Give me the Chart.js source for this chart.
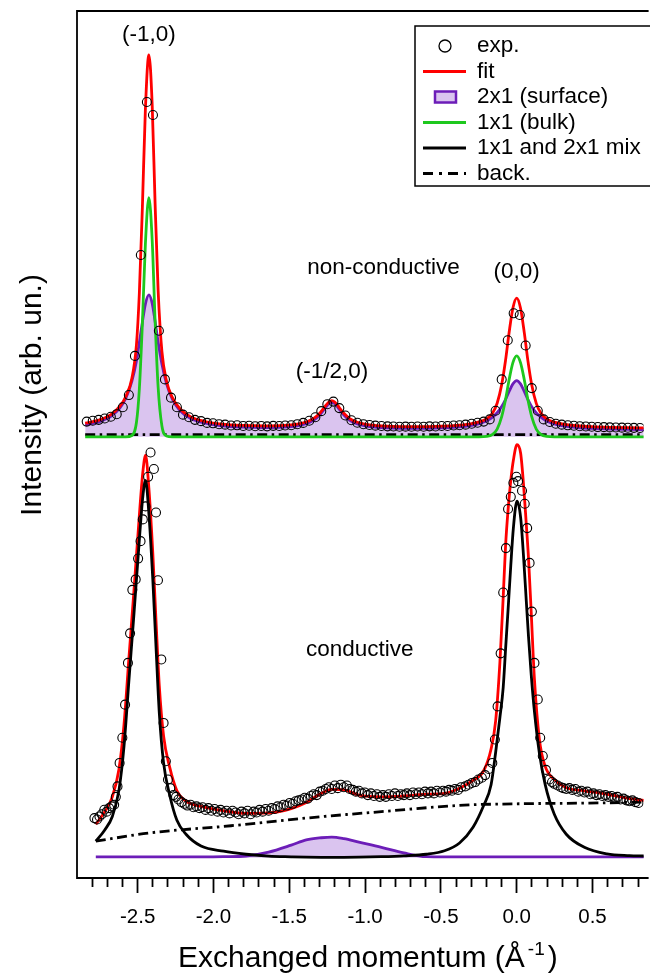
<!DOCTYPE html>
<html>
<head>
<meta charset="utf-8">
<script src="https://cdn.jsdelivr.net/npm/chart.js@4.4.1/dist/chart.umd.min.js"></script>
<style>
  html, body { margin: 0; padding: 0; background: #fff; }
  canvas { display: block; }
</style>
</head>
<body>
<canvas id="graph" width="650" height="973"></canvas>
<script>
// x: exchanged momentum (1/A), y: intensity in arb. units
// the non-conductive panel sits above the conductive one, shifted by TOP_OFFSET
const TOP_OFFSET = 48.4;

// ---- non-conductive (top) ----
const topCurveX = [-2.846, -2.756, -2.677, -2.618, -2.578, -2.538, -2.508, -2.489, -2.469, -2.449,
  -2.426, -2.404, -2.385, -2.365, -2.340, -2.310, -2.271, -2.221, -2.152, -2.062,
  -1.943, -1.805, -1.666, -1.537, -1.448, -1.388, -1.339, -1.299, -1.269, -1.239,
  -1.220, -1.200, -1.170, -1.140, -1.101, -1.051, -0.992, -0.892, -0.754, -0.615,
  -0.496, -0.397, -0.317, -0.248, -0.198, -0.159, -0.129, -0.099, -0.074, -0.050,
  -0.025, 0, 0.025, 0.050, 0.074, 0.099, 0.129, 0.159, 0.198, 0.248,
  0.317, 0.397, 0.496, 0.615, 0.734, 0.840];
const topFit = [1.57, 1.92, 2.55, 3.49, 4.63, 6.74, 10.58, 16.45, 26.28, 37.62,
  43.9, 38.11, 26.86, 16.85, 9.81, 6.44, 4.52, 3.23, 2.32, 1.79,
  1.46, 1.31, 1.26, 1.31, 1.46, 1.70, 2.11, 2.71, 3.37, 4.00,
  4.16, 4.00, 3.36, 2.70, 2.09, 1.67, 1.43, 1.25, 1.17, 1.17,
  1.22, 1.31, 1.46, 1.71, 2.08, 2.74, 3.86, 6.00, 8.74, 11.99,
  14.81, 15.95, 14.81, 11.98, 8.73, 5.99, 3.85, 2.73, 2.06, 1.69,
  1.43, 1.27, 1.16, 1.09, 1.05, 1.03];
const topSurface = [1.37, 1.72, 2.35, 3.29, 4.43, 6.39, 8.73, 10.81, 13.15, 15.26,
  16.32, 15.34, 13.27, 10.92, 8.36, 6.14, 4.32, 3.03, 2.12, 1.59,
  1.26, 1.11, 1.06, 1.11, 1.26, 1.50, 1.91, 2.51, 3.17, 3.80,
  3.96, 3.80, 3.16, 2.50, 1.89, 1.47, 1.23, 1.05, 0.97, 0.97,
  1.02, 1.11, 1.26, 1.51, 1.84, 2.27, 2.77, 3.48, 4.28, 5.22,
  6.08, 6.45, 6.08, 5.21, 4.27, 3.47, 2.76, 2.26, 1.82, 1.49,
  1.23, 1.07, 0.96, 0.89, 0.85, 0.83];
const topBulk = [0, 0, 0, 0, 0, 0.15, 1.65, 5.44, 12.93, 22.16,
  27.5, 22.57, 13.39, 5.73, 1.25, 0.10, 0, 0, 0, 0,
  0, 0, 0, 0, 0, 0, 0, 0, 0, 0,
  0, 0, 0, 0, 0, 0, 0, 0, 0, 0,
  0, 0, 0, 0, 0.04, 0.27, 0.89, 2.32, 4.26, 6.57,
  8.53, 9.3, 8.53, 6.57, 4.26, 2.32, 0.89, 0.27, 0.04, 0,
  0, 0, 0, 0, 0, 0];
const topBackX = [-2.846, 0.84];
const topBack = [0.25, 0.25];
const topExp = [
  [-2.836, 1.75], [-2.796, 1.85], [-2.757, 1.95], [-2.717, 2.1], [-2.677, 2.3], [-2.638, 2.6], [-2.598, 3.4], [-2.558, 4.8], [-2.518, 9.3], [-2.479, 20.9],
  [-2.439, 38.5], [-2.399, 37.0], [-2.360, 12.2], [-2.320, 6.6], [-2.280, 4.5], [-2.241, 3.4], [-2.201, 2.55], [-2.161, 2.25], [-2.122, 1.95], [-2.082, 1.8],
  [-2.042, 1.6], [-2.003, 1.55], [-1.963, 1.45], [-1.923, 1.4], [-1.884, 1.3], [-1.844, 1.32], [-1.804, 1.25], [-1.765, 1.27], [-1.725, 1.22], [-1.685, 1.25],
  [-1.646, 1.2], [-1.606, 1.26], [-1.566, 1.24], [-1.527, 1.3], [-1.487, 1.33], [-1.447, 1.45], [-1.408, 1.6], [-1.368, 1.85], [-1.328, 2.25], [-1.289, 2.95],
  [-1.249, 3.75], [-1.209, 4.05], [-1.170, 3.3], [-1.130, 2.45], [-1.090, 1.9], [-1.051, 1.62], [-1.011, 1.45], [-0.971, 1.36], [-0.932, 1.28], [-0.892, 1.24],
  [-0.852, 1.2], [-0.813, 1.18], [-0.773, 1.16], [-0.733, 1.17], [-0.694, 1.15], [-0.654, 1.18], [-0.614, 1.16], [-0.575, 1.2], [-0.535, 1.19], [-0.495, 1.24],
  [-0.456, 1.25], [-0.416, 1.3], [-0.377, 1.33], [-0.337, 1.4], [-0.297, 1.5], [-0.258, 1.62], [-0.218, 1.75], [-0.178, 2.0], [-0.139, 3.0], [-0.099, 6.6],
  [-0.059, 11.1], [-0.020, 14.2], [0.020, 14.0], [0.059, 10.5], [0.099, 5.6], [0.139, 3.0], [0.178, 2.0], [0.218, 1.7], [0.258, 1.5], [0.297, 1.4],
  [0.337, 1.32], [0.377, 1.27], [0.416, 1.22], [0.456, 1.18], [0.495, 1.16], [0.535, 1.12], [0.575, 1.11], [0.614, 1.08], [0.654, 1.07], [0.694, 1.05],
  [0.733, 1.04], [0.773, 1.03], [0.813, 1.01]
];

// ---- conductive (bottom) ----
const botCurveX = [-2.776, -2.717, -2.667, -2.623, -2.590, -2.557, -2.524, -2.492, -2.466, -2.448,
  -2.426, -2.400, -2.379, -2.357, -2.329, -2.290, -2.241, -2.181, -2.082, -1.933,
  -1.785, -1.636, -1.487, -1.388, -1.289, -1.220, -1.140, -1.041, -0.892, -0.744,
  -0.595, -0.476, -0.377, -0.288, -0.218, -0.169, -0.139, -0.111, -0.089, -0.073,
  -0.057, -0.039, -0.022, 0.002, 0.026, 0.046, 0.063, 0.078, 0.096, 0.117,
  0.149, 0.188, 0.248, 0.327, 0.446, 0.595, 0.744, 0.840];
const botFit = [3.85, 5.3, 7.0, 10.2, 15.3, 23.1, 30.8, 38.6, 44.3, 46.3,
  42.5, 35.0, 27.3, 19.7, 14.0, 10.5, 7.7, 6.5, 5.9, 5.4,
  5.1, 5.15, 5.65, 6.35, 7.4, 7.85, 7.8, 7.2, 7.0, 7.1,
  7.3, 7.4, 8.0, 8.9, 10.0, 12.5, 15.7, 22.4, 30.0, 36.0,
  40.0, 43.4, 45.7, 47.5, 46.5, 42.7, 38.4, 34.4, 28.1, 20.5,
  13.7, 10.5, 9.0, 8.05, 7.7, 7.3, 6.8, 6.6];
const botMix = [1.9, 3.2, 4.75, 7.8, 12.8, 20.5, 28.1, 35.8, 41.5, 43.4,
  39.6, 32.0, 24.3, 16.6, 10.9, 7.3, 4.3, 2.7, 1.35, 0.75,
  0.4, 0.18, 0.1, 0.06, 0.05, 0.05, 0.05, 0.06, 0.12, 0.22,
  0.4, 0.8, 1.7, 3.5, 6.0, 8.4, 12.1, 16.1, 19.6, 24.1,
  28.5, 33.6, 37.9, 41.0, 39.1, 34.4, 29.6, 25.4, 21.0, 16.8,
  12.1, 8.4, 5.0, 2.7, 1.2, 0.45, 0.25, 0.2];
const botSurface = [0.1, 0.1, 0.1, 0.1, 0.1, 0.1, 0.1, 0.1, 0.1, 0.1,
  0.1, 0.1, 0.1, 0.1, 0.1, 0.1, 0.1, 0.1, 0.1, 0.12,
  0.2, 0.65, 1.45, 2.05, 2.3, 2.38, 2.2, 1.8, 1.2, 0.55,
  0.12, 0.1, 0.1, 0.1, 0.1, 0.1, 0.1, 0.1, 0.1, 0.1,
  0.1, 0.1, 0.1, 0.1, 0.1, 0.1, 0.1, 0.1, 0.1, 0.1,
  0.1, 0.1, 0.1, 0.1, 0.1, 0.1, 0.1, 0.1];
const botBackX = [-2.776, -2.429, -1.884, -1.388, -0.892, -0.347, 0, 0.545, 0.84];
const botBack = [1.9, 2.84, 3.68, 4.56, 5.3, 6.05, 6.2, 6.3, 6.4];
const botExp = [
  [-2.785, 4.56], [-2.768, 4.4], [-2.752, 4.75], [-2.737, 5.0], [-2.720, 5.52], [-2.704, 5.3], [-2.688, 5.71], [-2.671, 5.9], [-2.655, 6.09], [-2.644, 7.0],
  [-2.633, 8.2], [-2.619, 10.9], [-2.601, 13.8], [-2.583, 17.6], [-2.564, 22.4], [-2.550, 25.8], [-2.535, 30.8], [-2.513, 32.0], [-2.497, 34.4], [-2.481, 36.4],
  [-2.466, 38.9], [-2.448, 40.4], [-2.431, 43.8], [-2.415, 46.6], [-2.393, 44.7], [-2.379, 39.7], [-2.366, 31.9], [-2.344, 22.8], [-2.329, 15.5], [-2.314, 11.1],
  [-2.300, 9.0], [-2.285, 8.0], [-2.264, 7.2], [-2.247, 7.0], [-2.231, 6.7],
  [-2.211, 6.4], [-2.191, 6.2], [-2.172, 6.0], [-2.152, 6.1], [-2.132, 5.8], [-2.112, 5.9], [-2.092, 5.7], [-2.072, 5.8], [-2.052, 5.5], [-2.033, 5.7],
  [-2.013, 5.4], [-1.993, 5.6], [-1.973, 5.3], [-1.953, 5.5], [-1.934, 5.2], [-1.914, 5.4], [-1.894, 5.1], [-1.874, 5.4], [-1.854, 5.2], [-1.834, 5.0],
  [-1.815, 5.3], [-1.795, 5.1], [-1.775, 5.4], [-1.755, 5.0], [-1.735, 5.3], [-1.715, 5.2], [-1.696, 5.5], [-1.676, 5.3], [-1.656, 5.6], [-1.636, 5.4],
  [-1.616, 5.7], [-1.596, 5.6], [-1.577, 5.9], [-1.557, 5.8], [-1.537, 6.1], [-1.517, 6.0], [-1.497, 6.3], [-1.477, 6.2], [-1.458, 6.5], [-1.438, 6.6],
  [-1.418, 6.7], [-1.398, 6.9], [-1.378, 6.8], [-1.358, 7.1], [-1.339, 7.3], [-1.319, 7.2], [-1.299, 7.6], [-1.279, 7.7], [-1.259, 7.9], [-1.239, 8.1],
  [-1.220, 7.9], [-1.200, 8.3], [-1.180, 8.0], [-1.160, 8.4], [-1.140, 8.1], [-1.120, 8.3], [-1.101, 7.9], [-1.081, 7.8], [-1.061, 7.6], [-1.041, 7.7],
  [-1.021, 7.4], [-1.002, 7.5], [-0.982, 7.2], [-0.962, 7.4], [-0.942, 7.1], [-0.922, 7.3], [-0.903, 7.0], [-0.883, 7.2], [-0.863, 7.0], [-0.843, 7.3],
  [-0.823, 7.1], [-0.803, 7.4], [-0.784, 7.1], [-0.764, 7.3], [-0.744, 7.2], [-0.724, 7.4], [-0.704, 7.2], [-0.684, 7.5], [-0.665, 7.3], [-0.645, 7.5],
  [-0.625, 7.3], [-0.605, 7.6], [-0.585, 7.4], [-0.565, 7.6], [-0.546, 7.4], [-0.526, 7.7], [-0.506, 7.5], [-0.486, 7.7], [-0.466, 7.6], [-0.446, 7.8],
  [-0.427, 7.7], [-0.407, 7.9], [-0.387, 7.8], [-0.367, 8.1],
  [-0.339, 8.2], [-0.317, 8.4], [-0.295, 8.6], [-0.274, 8.7], [-0.253, 9.0], [-0.230, 9.2], [-0.208, 9.5], [-0.184, 10.2], [-0.161, 10.9], [-0.144, 13.6],
  [-0.126, 17.4], [-0.106, 23.5], [-0.089, 30.5], [-0.071, 35.6], [-0.057, 40.1], [-0.039, 41.5], [-0.022, 43.1], [-0.002, 43.8], [0.009, 43.3], [0.035, 42.2],
  [0.053, 40.7], [0.069, 37.9], [0.085, 33.9], [0.100, 28.3], [0.117, 22.4], [0.139, 18.2], [0.155, 13.8], [0.172, 11.7], [0.193, 10.1], [0.215, 9.0],
  [0.233, 8.7], [0.248, 8.5], [0.270, 8.3], [0.292, 8.1],
  [0.307, 8.0], [0.327, 7.9], [0.347, 8.0], [0.367, 7.8], [0.387, 7.9], [0.407, 7.6], [0.426, 7.7], [0.446, 7.5], [0.466, 7.6], [0.486, 7.3],
  [0.506, 7.4], [0.526, 7.2], [0.545, 7.3], [0.565, 7.1], [0.585, 7.2], [0.605, 7.0], [0.625, 7.1], [0.645, 6.9], [0.664, 7.0], [0.684, 6.7],
  [0.704, 6.8], [0.724, 6.6], [0.744, 6.5], [0.763, 6.6], [0.783, 6.4], [0.803, 6.3]
];

const legendLabels = ['exp.', 'fit', '2x1 (surface)', '1x1 (bulk)', '1x1 and 2x1 mix', 'back.'];
const peakLabels = [
  { text: '(-1,0)', x: -2.426, y: 94.6 },
  { text: 'non-conductive', x: -0.879, y: 67.8 },
  { text: '(0,0)', x: 0.0, y: 67.4 },
  { text: '(-1/2,0)', x: -1.218, y: 55.9 },
  { text: 'conductive', x: -1.035, y: 23.9 }
];

const FONT = '"Liberation Sans", Arial, Helvetica, sans-serif';
const RED = '#ff0000';
const GREEN = '#1ec81e';
const PURPLE = '#6c1db8';
const LILAC = '#dac4ef';
const DASHDOT = [10, 4.5, 2.5, 4.5];

const toPoints = (xs, ys, shift) => xs.map((v, i) => ({ x: v, y: ys[i] + shift }));
const pairPoints = (pairs, shift) => pairs.map(p => ({ x: p[0], y: p[1] + shift }));
const isMajor = v => Math.abs(Math.round(v * 10)) % 5 === 0;

function curve(label, data, color, order, extra) {
  return Object.assign({
    label: label,
    data: data,
    borderColor: color,
    backgroundColor: color,
    borderWidth: 2.8,
    pointRadius: 0,
    fill: false,
    cubicInterpolationMode: 'monotone',
    order: order
  }, extra || {});
}

function circles(label, data) {
  return {
    label: label,
    data: data,
    showLine: false,
    pointRadius: 4.5,
    pointBorderWidth: 1.1,
    pointBorderColor: '#000',
    pointBackgroundColor: 'rgba(0,0,0,0)',
    borderColor: '#000',
    order: 0
  };
}

const decorations = {
  id: 'decorations',
  afterDraw(chart) {
    const { ctx, chartArea: a } = chart;
    const x = chart.scales.x, y = chart.scales.y;
    ctx.save();

    // frame (right side runs off the page)
    ctx.strokeStyle = '#000';
    ctx.lineWidth = 1.8;
    ctx.beginPath();
    ctx.moveTo(a.right + 5, a.top);
    ctx.lineTo(a.left, a.top);
    ctx.lineTo(a.left, a.bottom);
    ctx.lineTo(a.right + 5, a.bottom);
    ctx.stroke();

    // peak names
    ctx.fillStyle = '#000';
    ctx.font = '22.5px ' + FONT;
    ctx.textAlign = 'center';
    ctx.textBaseline = 'middle';
    peakLabels.forEach(l => ctx.fillText(l.text, x.getPixelForValue(l.x), y.getPixelForValue(l.y)));

    // y title
    ctx.save();
    ctx.translate(33, 395);
    ctx.rotate(-Math.PI / 2);
    ctx.font = '30px ' + FONT;
    ctx.fillText('Intensity (arb. un.)', 0, 0);
    ctx.restore();

    // x title with superscript
    ctx.textAlign = 'left';
    ctx.textBaseline = 'alphabetic';
    const main = 'Exchanged momentum (\u00C5';
    ctx.font = '30px ' + FONT;
    let tx = 178;
    ctx.fillText(main, tx, 967);
    tx += ctx.measureText(main).width + 3;
    ctx.font = '19px ' + FONT;
    ctx.fillText('-1', tx, 955);
    tx += ctx.measureText('-1').width + 3;
    ctx.font = '30px ' + FONT;
    ctx.fillText(')', tx, 967);

    // legend box
    const bx = 415, by = 26, bh = 160;
    ctx.fillStyle = '#fff';
    ctx.fillRect(bx, by, 260, bh);
    ctx.lineWidth = 1.5;
    ctx.strokeStyle = '#000';
    ctx.strokeRect(bx, by, 260, bh);

    const rows = [46, 71.5, 97, 122.5, 148, 173.5];
    const x0 = 423, x1 = 466;
    const line = (yy, color, dash) => {
      ctx.save();
      ctx.strokeStyle = color;
      ctx.lineWidth = 2.8;
      ctx.setLineDash(dash || []);
      ctx.beginPath();
      ctx.moveTo(x0, yy);
      ctx.lineTo(x1, yy);
      ctx.stroke();
      ctx.restore();
    };
    ctx.strokeStyle = '#000';
    ctx.lineWidth = 1.3;
    ctx.beginPath();
    ctx.arc(445, rows[0], 6, 0, Math.PI * 2);
    ctx.stroke();
    line(rows[1], RED);
    ctx.fillStyle = LILAC;
    ctx.fillRect(435, rows[2] - 5.5, 21, 11);
    ctx.strokeStyle = PURPLE;
    ctx.lineWidth = 2.5;
    ctx.strokeRect(435, rows[2] - 5.5, 21, 11);
    line(rows[3], GREEN);
    line(rows[4], '#000');
    line(rows[5], '#000', [10, 6, 3, 6]);

    ctx.fillStyle = '#000';
    ctx.font = '22.5px ' + FONT;
    ctx.textBaseline = 'middle';
    legendLabels.forEach((t, i) => ctx.fillText(t, 477, rows[i]));

    ctx.restore();
  }
};

new Chart(document.getElementById('graph'), {
  type: 'line',
  data: {
    datasets: [
      circles('exp.', pairPoints(topExp, TOP_OFFSET)),
      circles('exp. (conductive)', pairPoints(botExp, 0)),
      curve('1x1 and 2x1 mix', toPoints(botCurveX, botMix, 0), '#000', 1),
      curve('fit', toPoints(topCurveX, topFit, TOP_OFFSET), RED, 2),
      curve('fit (conductive)', toPoints(botCurveX, botFit, 0), RED, 2),
      curve('1x1 (bulk)', toPoints(topCurveX, topBulk, TOP_OFFSET), GREEN, 3),
      curve('back.', toPoints(topBackX, topBack, TOP_OFFSET), '#000', 4, { borderDash: DASHDOT }),
      curve('back. (conductive)', toPoints(botBackX, botBack, 0), '#000', 4, { borderDash: DASHDOT }),
      curve('2x1 (surface)', toPoints(topCurveX, topSurface, TOP_OFFSET), PURPLE, 5,
        { fill: { value: TOP_OFFSET }, backgroundColor: LILAC }),
      curve('2x1 (surface, conductive)', toPoints(botCurveX, botSurface, 0), PURPLE, 5,
        { fill: { value: 0 }, backgroundColor: LILAC })
    ]
  },
  options: {
    responsive: false,
    devicePixelRatio: 1,
    animation: false,
    layout: { autoPadding: false, padding: { left: 77, top: 11, right: 0, bottom: 0 } },
    plugins: { legend: { display: false }, tooltip: { enabled: false } },
    scales: {
      x: {
        type: 'linear',
        min: -2.9,
        max: 0.837,
        border: { display: false },
        grid: {
          drawOnChartArea: false,
          drawTicks: true,
          tickLength: 15,
          tickWidth: 1.8,
          tickColor: '#000',
          tickBorderDash: ctx => (ctx.tick && isMajor(ctx.tick.value)) ? [] : [9, 40]
        },
        ticks: {
          stepSize: 0.1,
          includeBounds: false,
          autoSkip: false,
          maxTicksLimit: 100,
          maxRotation: 0,
          padding: 12,
          color: '#000',
          font: { family: FONT, size: 20.5 },
          callback: v => isMajor(v) ? (Math.round(v * 10) / 10).toFixed(1) : ''
        },
        afterFit: s => { s.height = 95; }
      },
      y: { type: 'linear', min: -2.33, max: 97.36, display: false }
    }
  },
  plugins: [decorations]
});
</script>
</body>
</html>
